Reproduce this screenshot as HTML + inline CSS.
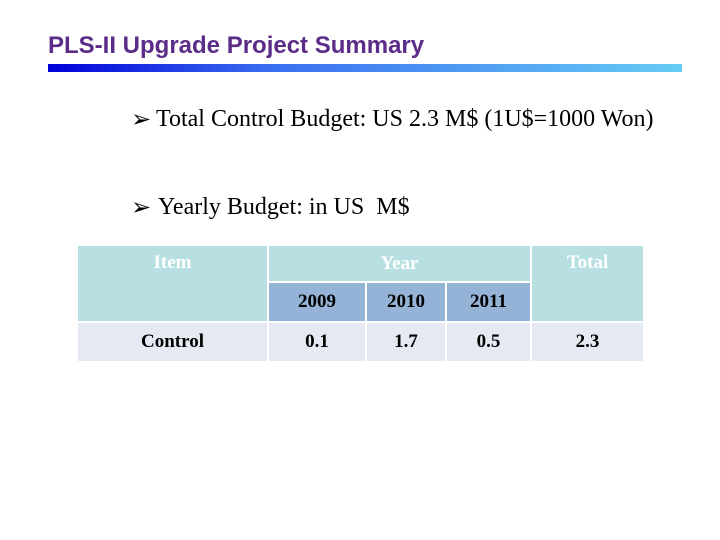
<!DOCTYPE html>
<html><head><meta charset="utf-8"><style>
body{margin:0;width:720px;height:540px;background:#fff;position:relative;overflow:hidden;font-family:"Liberation Serif",serif}
.a{position:absolute;white-space:nowrap}
.c{position:absolute;display:flex;align-items:center;justify-content:center;font-weight:bold;font-size:19px;box-sizing:border-box}
.h{background:#b8e0e3;color:#fff}
.y{background:#95b3d7;color:#000}
.d{background:#e5eaf2;color:#000}
</style></head><body>
<div class="a" style="left:48px;top:32px;font:bold 24px 'Liberation Sans',sans-serif;color:#5b2c88">PLS-II Upgrade Project Summary</div>
<div class="a" style="left:48px;top:64px;width:634px;height:8px;background:linear-gradient(90deg,#0000d8,#3a6ef0 35%,#66ccf4)"></div>
<div class="a" style="left:131px;top:105px;font:24px 'DejaVu Sans',sans-serif">➢</div>
<div class="a" style="left:156px;top:106px;font-size:24px;color:#000">Total Control Budget: US 2.3 M$ (1U$=1000 Won)</div>
<div class="a" style="left:131px;top:193px;font:24px 'DejaVu Sans',sans-serif">➢</div>
<div class="a" style="left:158px;top:194px;font-size:24px;color:#000">Yearly Budget: in US&nbsp; M$</div>
<div>
<div class="c h" style="left:78px;top:246px;width:189px;height:75px;align-items:flex-start;padding-top:6px">Item</div>
<div class="c h" style="left:269px;top:246px;width:261px;height:35px">Year</div>
<div class="c h" style="left:532px;top:246px;width:111px;height:75px;align-items:flex-start;padding-top:6px">Total</div>
<div class="c y" style="left:269px;top:283px;width:96px;height:38px">2009</div>
<div class="c y" style="left:367px;top:283px;width:78px;height:38px">2010</div>
<div class="c y" style="left:447px;top:283px;width:83px;height:38px">2011</div>
<div class="c d" style="left:78px;top:323px;width:189px;height:38px">Control</div>
<div class="c d" style="left:269px;top:323px;width:96px;height:38px">0.1</div>
<div class="c d" style="left:367px;top:323px;width:78px;height:38px">1.7</div>
<div class="c d" style="left:447px;top:323px;width:83px;height:38px">0.5</div>
<div class="c d" style="left:532px;top:323px;width:111px;height:38px">2.3</div>
</div>
</body></html>
